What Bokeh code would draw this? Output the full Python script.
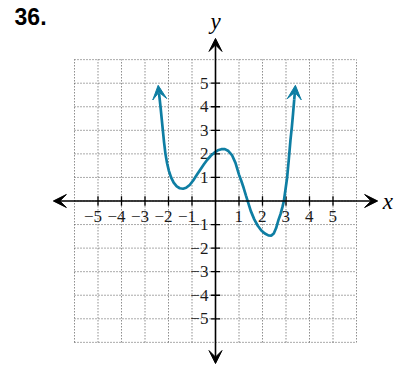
from bokeh.plotting import figure
from bokeh.models import Arrow, VeeHead
from bokeh.core.properties import value
from bokeh.embed import file_html
from bokeh.resources import INLINE

# ---- data ----
grid_vals = [-6, -5, -4, -3, -2, -1, 0, 1, 2, 3, 4, 5, 6]
tick_vals = [-5, -4, -3, -2, -1, 1, 2, 3, 4, 5]
tick_labels = ["\u22125", "\u22124", "\u22123", "\u22122", "\u22121", "1", "2", "3", "4", "5"]

curve_x = [-2.40, -2.34, -2.29, -2.24, -2.19, -2.13, -2.06, -1.98, -1.89, -1.78,
           -1.65, -1.52, -1.38, -1.25, -1.10, -0.95, -0.80, -0.65, -0.50, -0.35,
           -0.20, -0.05, 0.10, 0.25, 0.40, 0.55, 0.70, 0.85, 1.00, 1.10,
           1.20, 1.30, 1.40, 1.50, 1.65, 1.80, 1.95, 2.10, 2.25, 2.37,
           2.48, 2.58, 2.68, 2.77, 2.85, 2.91, 2.98, 3.05, 3.12, 3.19,
           3.25, 3.30, 3.35]
curve_y = [4.55, 4.00, 3.50, 3.00, 2.50, 2.00, 1.60, 1.27, 1.00, 0.78,
           0.62, 0.54, 0.52, 0.56, 0.68, 0.87, 1.10, 1.33, 1.55, 1.75,
           1.92, 2.05, 2.15, 2.20, 2.20, 2.12, 1.95, 1.62, 1.12, 0.85,
           0.55, 0.22, -0.10, -0.42, -0.78, -1.05, -1.25, -1.38, -1.46, -1.47,
           -1.38, -1.15, -0.80, -0.55, -0.25, 0.00, 0.50, 1.01, 1.78, 2.58,
           3.15, 3.71, 4.30]
left_tip = (-2.44, 4.91)
right_tip = (3.40, 4.91)
axis_end = 6.9
problem_label = "36."

# ---- styles ----
CURVE = "#0e7ea3"
GRID = "#555555"
SERIF = "Liberation Serif"
LABEL = "#1a1a1a"

p = figure(width=394, height=366, x_range=(-9.149, 7.617), y_range=(-7.025, 8.510),
           output_backend="svg", toolbar_location=None, min_border=0)
p.axis.visible = False
p.grid.visible = False
p.outline_line_color = None
p.background_fill_color = "white"

lo, hi = grid_vals[0], grid_vals[-1]
# grid (dotted)
p.segment(x0=grid_vals, y0=[lo] * len(grid_vals), x1=grid_vals, y1=[hi] * len(grid_vals),
          line_color=GRID, line_width=1, line_dash="1 2")
p.segment(x0=[lo] * len(grid_vals), y0=grid_vals, x1=[hi] * len(grid_vals), y1=grid_vals,
          line_color=GRID, line_width=1, line_dash="1 2")

# axes with arrows
for xs, ys, xe, ye in [(-axis_end, 0, axis_end, 0), (0, -axis_end, 0, axis_end)]:
    p.add_layout(Arrow(start=VeeHead(size=13, fill_color="black", line_color="black", line_width=1),
                       end=VeeHead(size=13, fill_color="black", line_color="black", line_width=1),
                       x_start=xs, y_start=ys, x_end=xe, y_end=ye,
                       line_color="black", line_width=1.6))

# tick marks
tk = 0.2
p.segment(x0=tick_vals, y0=[-tk] * len(tick_vals), x1=tick_vals, y1=[tk] * len(tick_vals),
          line_color="black", line_width=1.3)
p.segment(x0=[-tk] * len(tick_vals), y0=tick_vals, x1=[tk] * len(tick_vals), y1=tick_vals,
          line_color="black", line_width=1.3)

# tick labels
p.text(x=tick_vals, y=[-0.64] * len(tick_vals), text=tick_labels,
       text_font=value(SERIF), text_font_size="17px", text_color=LABEL,
       text_align="right", text_baseline="alphabetic", x_offset=4)
p.text(x=[-0.30] * len(tick_vals), y=tick_vals, text=tick_labels,
       text_font=value(SERIF), text_font_size="17px", text_color=LABEL,
       text_align="right", text_baseline="middle")

# axis names
p.text(x=[0], y=[7.62], text=["y"], text_font=value(SERIF), text_font_style="italic",
       text_font_size="23px", text_align="center", text_baseline="alphabetic", text_color="black")
p.text(x=[7.33], y=[-0.02], text=["x"], text_font=value(SERIF), text_font_style="italic",
       text_font_size="23px", text_align="center", text_baseline="alphabetic", text_color="black")

# problem number
p.text(x=[-8.55], y=[7.85], text=[problem_label], text_font=value("Liberation Sans"),
       text_font_style="bold", text_font_size="23px", text_align="left",
       text_baseline="alphabetic", text_color="black")

# curve
p.line(curve_x, curve_y, line_color=CURVE, line_width=2.7)
for (sx, sy), (tx, ty) in [((curve_x[0], curve_y[0]), left_tip), ((curve_x[-1], curve_y[-1]), right_tip)]:
    p.add_layout(Arrow(end=VeeHead(size=14, fill_color=CURVE, line_color=CURVE, line_width=1),
                       x_start=sx, y_start=sy, x_end=tx, y_end=ty,
                       line_color=CURVE, line_width=2.7))

open("out.html", "w").write(file_html(p, INLINE))
